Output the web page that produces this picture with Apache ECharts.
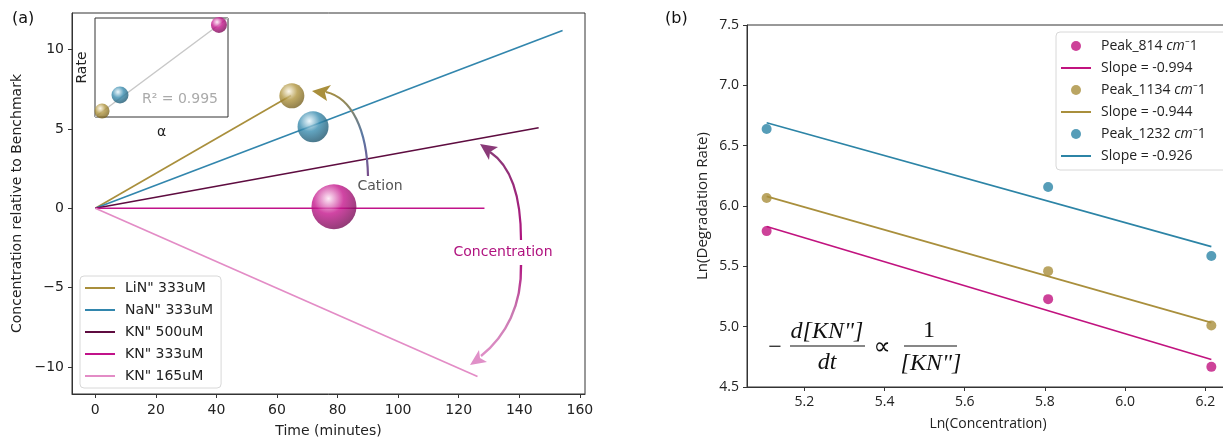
<!DOCTYPE html>
<html><head><meta charset="utf-8">
<script src="https://cdn.jsdelivr.net/npm/echarts@6/dist/echarts.min.js"></script>
<style>html,body{margin:0;padding:0;background:#fff}#c{width:1223px;height:437px}</style>
</head><body><div id="c"></div><script>
// ---------- Panel (a) data ----------
const namesA = ['LiN" 333uM', 'NaN" 333uM', 'KN" 500uM', 'KN" 333uM', 'KN" 165uM'];
const colorsA = ['#a98f3c', '#3286ad', '#5e0c40', '#c1138a', '#e38cc6'];
const startX = [0, 0, 0, 0, 0];
const startY = [0, 0, 0, 0, 0];
const endX = [64.6, 154.3, 146.4, 128.5, 126.2];
const endY = [7.1, 11.2, 5.07, 0, -10.6];
const ticksAX = [0, 20, 40, 60, 80, 100, 120, 140, 160];
const ticksAY = [-10, -5, 0, 5, 10];
// spheres on main plot (gold, blue, magenta)
const sphereX = [64.9, 71.9, 78.8];
const sphereY = [7.08, 5.14, 0.1];
const sphereSize = [25, 31, 45];
// inset (alpha vs rate)
const insetAlpha = [0.053, 0.188, 0.932];
const insetRate = [0.06, 0.222, 0.93];
const insetSize = [15, 17, 16];
const insetFitX = [0.0, 1.0];
const insetFitY = [0.0, 1.0];
// ---------- Panel (b) data ----------
const lnConc = [5.106, 5.808, 6.215];
const peak814 = [5.792, 5.228, 4.667];
const peak1134 = [6.066, 5.46, 5.01];
const peak1232 = [6.638, 6.157, 5.585];
const fitX = [5.106, 6.215];
const fit814 = [5.83, 4.728];
const fit1134 = [6.08, 5.033];
const fit1232 = [6.69, 5.663];
const ticksBX = [5.2, 5.4, 5.6, 5.8, 6.0, 6.2];
const namesB = ['Peak_814', 'Slope = -0.994', 'Peak_1134', 'Slope = -0.944', 'Peak_1232', 'Slope = -0.926'];
const colorsB = ['#c1137f', '#a98f3c', '#2c84a6'];

const sphereBase = [
  ['#fbf6e6', '#b0953f', '#6f5a1c'],
  ['#eaf6fb', '#3a8db0', '#1a4f66'],
  ['#fde6f4', '#c5178d', '#6e0a4e']
];
function sphereColor(i) {
  const c = sphereBase[i];
  return { type: 'radial', x: 0.38, y: 0.32, r: 0.75,
    colorStops: [{ offset: 0, color: c[0] }, { offset: 0.45, color: c[1] }, { offset: 1, color: c[2] }] };
}
const fontA = 'DejaVu Sans';
const fontB = 'Open Sans';
const minus = v => String(v).replace('-', '\u2212');
const lineIcon = 'path://M0,0H30V2H0Z';

const series = [];
namesA.forEach((n, i) => {
  series.push({ name: n, type: 'line', xAxisIndex: 0, yAxisIndex: 0, symbol: 'none', silent: true,
    data: [[startX[i], startY[i]], [endX[i], endY[i]]],
    lineStyle: { color: colorsA[i], width: 1.7 }, itemStyle: { color: colorsA[i] }, z: 2 });
});
series.push({ type: 'scatter', xAxisIndex: 0, yAxisIndex: 0, z: 5, clip: false,
  data: sphereX.map((x, i) => ({ value: [x, sphereY[i]], symbolSize: sphereSize[i], itemStyle: { color: sphereColor(i) } })) });
// inset
series.push({ type: 'line', xAxisIndex: 2, yAxisIndex: 2, symbol: 'none', z: 6,
  data: insetFitX.map((x, i) => [x, insetFitY[i]]), lineStyle: { color: '#c8c8c8', width: 1.5 } });
series.push({ type: 'scatter', xAxisIndex: 2, yAxisIndex: 2, z: 7, clip: false,
  data: insetAlpha.map((x, i) => ({ value: [x, insetRate[i]], symbolSize: insetSize[i], itemStyle: { color: sphereColor(i) } })) });
// panel b
const peaks = [peak814, peak1134, peak1232];
const fits = [fit814, fit1134, fit1232];
[0, 1, 2].forEach(k => {
  series.push({ name: namesB[2 * k], type: 'scatter', xAxisIndex: 1, yAxisIndex: 1, symbol: 'circle', symbolSize: 10, z: 4,
    data: lnConc.map((x, i) => [x, peaks[k][i]]), itemStyle: { color: colorsB[k] } });
  series.push({ name: namesB[2 * k + 1], type: 'line', xAxisIndex: 1, yAxisIndex: 1, symbol: 'none', z: 3,
    data: fitX.map((x, i) => [x, fits[k][i]]), lineStyle: { color: colorsB[k], width: 1.7 }, itemStyle: { color: colorsB[k] } });
});

const axisBase = {
  axisLine: { show: true, onZero: false, lineStyle: { color: '#333', width: 1 } },
  splitLine: { show: false }
};

const option = {
  animation: false,
  backgroundColor: '#fff',
  grid: [
    { left: 72, right: 638, top: 13, bottom: 43, show: true, borderColor: '#333', borderWidth: 1, containLabel: false, outerBoundsMode: 'none' },
    { left: 747, right: -12, top: 25, bottom: 50, show: true, borderColor: '#333', borderWidth: 1, containLabel: false, outerBoundsMode: 'none' },
    { left: 95, width: 133, top: 18, height: 99, show: true, borderColor: '#333', borderWidth: 1, z: 4, backgroundColor: '#fff', containLabel: false, outerBoundsMode: 'none' }
  ],
  xAxis: [
    Object.assign({}, axisBase, { type: 'value', gridIndex: 0, min: -7.7, max: 161.7,
      name: 'Time (minutes)', nameLocation: 'middle', nameGap: 30,
      nameTextStyle: { color: '#222', fontFamily: fontA, fontSize: 14 },
      axisTick: { show: true, length: 4, lineStyle: { color: '#333' }, customValues: ticksAX },
      axisLabel: { color: '#222', fontFamily: fontA, fontSize: 14, margin: 9, customValues: ticksAX } }),
    Object.assign({}, axisBase, { type: 'value', gridIndex: 1, min: 5.057, max: 6.274,
      name: 'Ln(Concentration)', nameLocation: 'middle', nameGap: 30, nameMoveOverlap: false,
      nameTextStyle: { color: '#222', fontFamily: fontB, fontSize: 14, padding: [0, 6, 0, 0] },
      axisTick: { show: true, length: 4, lineStyle: { color: '#333' }, customValues: ticksBX },
      axisLabel: { color: '#222', fontFamily: fontB, fontSize: 14, margin: 8, customValues: ticksBX, formatter: v => v.toFixed(1) } }),
    { type: 'value', gridIndex: 2, min: 0, max: 1, axisLine: { show: false }, axisTick: { show: false },
      axisLabel: { show: false }, splitLine: { show: false },
      name: '\u03b1', nameLocation: 'middle', nameGap: 8, nameTextStyle: { color: '#222', fontFamily: fontA, fontSize: 14 } }
  ],
  yAxis: [
    Object.assign({}, axisBase, { type: 'value', gridIndex: 0, min: -11.7, max: 12.3,
      name: 'Concentration relative to Benchmark', nameLocation: 'middle', nameGap: 48,
      nameTextStyle: { color: '#222', fontFamily: fontA, fontSize: 14 },
      axisTick: { show: true, length: 4, lineStyle: { color: '#333' }, customValues: ticksAY },
      axisLabel: { color: '#222', fontFamily: fontA, fontSize: 14, margin: 8, customValues: ticksAY, formatter: minus } }),
    Object.assign({}, axisBase, { type: 'value', gridIndex: 1, min: 4.5, max: 7.5, interval: 0.5,
      name: 'Ln(Degradation Rate)', nameLocation: 'middle', nameGap: 37,
      nameTextStyle: { color: '#222', fontFamily: fontB, fontSize: 15 },
      axisTick: { show: true, length: 4, lineStyle: { color: '#333' } },
      axisLabel: { color: '#222', fontFamily: fontB, fontSize: 14, margin: 8, formatter: v => v.toFixed(1) } }),
    { type: 'value', gridIndex: 2, min: 0, max: 1, axisLine: { show: false }, axisTick: { show: false },
      axisLabel: { show: false }, splitLine: { show: false },
      name: 'Rate', nameLocation: 'middle', nameGap: 6, nameTextStyle: { color: '#222', fontFamily: fontA, fontSize: 14 } }
  ],
  legend: [
    { data: namesA.map(n => ({ name: n, icon: lineIcon })), orient: 'vertical', left: 80, top: 276, itemWidth: 30, itemHeight: 14, itemGap: 8,
      padding: [5, 8, 5, 5], backgroundColor: '#fff', borderColor: '#d8d8d8', borderWidth: 1, borderRadius: 4,
      textStyle: { fontFamily: fontA, fontSize: 14, color: '#222', padding: [0, 0, 0, 5] }, selectedMode: false },
    { data: namesB.map((n, i) => ({ name: n, icon: i % 2 === 0 ? 'circle' : lineIcon })),
      orient: 'vertical', left: 1056, top: 32, itemWidth: 30, itemHeight: 10, itemGap: 8,
      padding: [7, 60, 7, 5], backgroundColor: '#fff', borderColor: '#d8d8d8', borderWidth: 1, borderRadius: 4,
      formatter: n => n.startsWith('Peak') ? n + ' {i|cm}\u207b1' : n,
      textStyle: { fontFamily: fontB, fontSize: 14, color: '#222', padding: [0, 0, 0, 5],
        rich: { i: { fontFamily: fontB, fontSize: 14, fontStyle: 'italic', color: '#222' } } }, selectedMode: false }
  ],
  series: series,
  graphic: [
    { type: 'text', left: 12, top: 11, style: { text: '(a)', font: '16px "DejaVu Sans"', fill: '#111' } },
    { type: 'text', left: 665, top: 11, style: { text: '(b)', font: '16px "DejaVu Sans"', fill: '#111' } },
    { type: 'text', x: 180, y: 99, z: 20, style: { text: 'R\u00b2 = 0.995', font: '14px "DejaVu Sans"', fill: '#aaaaaa', align: 'center', verticalAlign: 'middle' } },
    // Cation arrow
    { type: 'bezierCurve', z: 10, shape: { x1: 368, y1: 176, cpx1: 367, cpy1: 130, cpx2: 352, cpy2: 98, x2: 326, y2: 92 },
      style: { fill: 'none', lineWidth: 2.2, stroke: { type: 'linear', x: 0, y: 1, x2: 0, y2: 0,
        colorStops: [{ offset: 0, color: '#7a4a8a' }, { offset: 0.5, color: '#5a7aa5' }, { offset: 1, color: '#a98f3c' }] } } },
    { type: 'polygon', z: 10, shape: { points: [[312, 91], [331, 85], [325, 93], [327, 101]] }, style: { fill: '#a98f3c' } },
    { type: 'text', x: 380, y: 186, z: 10, style: { text: 'Cation', font: '14px "DejaVu Sans"', fill: '#555', align: 'center', verticalAlign: 'middle' } },
    // Concentration arrows
    { type: 'bezierCurve', z: 10, shape: { x1: 521, y1: 240, cpx1: 521, cpy1: 196, cpx2: 511, cpy2: 166, x2: 490, y2: 152 },
      style: { fill: 'none', lineWidth: 2.2, stroke: { type: 'linear', x: 0, y: 1, x2: 0, y2: 0,
        colorStops: [{ offset: 0, color: '#b0127f' }, { offset: 1, color: '#8a3a78' }] } } },
    { type: 'polygon', z: 10, shape: { points: [[480, 144], [498, 147], [490, 152], [489, 160]] }, style: { fill: '#8a3a78' } },
    { type: 'bezierCurve', z: 10, shape: { x1: 521, y1: 265, cpx1: 522, cpy1: 305, cpx2: 506, cpy2: 336, x2: 481, y2: 356 },
      style: { fill: 'none', lineWidth: 2.4, stroke: { type: 'linear', x: 0, y: 0, x2: 0, y2: 1,
        colorStops: [{ offset: 0, color: '#b0127f' }, { offset: 0.5, color: '#c878b0' }, { offset: 1, color: '#e090c8' }] } } },
    { type: 'polygon', z: 10, shape: { points: [[470, 365], [479, 350], [480, 358], [487, 362]] }, style: { fill: '#e090c8' } },
    { type: 'text', x: 503, y: 252, z: 10, style: { text: 'Concentration', font: '14px "DejaVu Sans"', fill: '#b0127f', align: 'center', verticalAlign: 'middle' } },
    // formula
    { type: 'text', x: 775, y: 348, z: 10, style: { text: '\u2212', font: '24px "Liberation Serif"', fill: '#111', align: 'center', verticalAlign: 'middle' } },
    { type: 'text', x: 827, y: 332, z: 10, style: { text: 'd[KN"]', font: 'italic 24px "Liberation Serif"', fill: '#111', align: 'center', verticalAlign: 'middle' } },
    { type: 'line', z: 10, shape: { x1: 790, y1: 346, x2: 865, y2: 346 }, style: { stroke: '#111', lineWidth: 1.2 } },
    { type: 'text', x: 827, y: 363, z: 10, style: { text: 'dt', font: 'italic 24px "Liberation Serif"', fill: '#111', align: 'center', verticalAlign: 'middle' } },
    { type: 'text', x: 882, y: 348, z: 10, style: { text: '\u221d', font: '24px "DejaVu Sans"', fill: '#111', align: 'center', verticalAlign: 'middle' } },
    { type: 'text', x: 929, y: 331, z: 10, style: { text: '1', font: '24px "Liberation Serif"', fill: '#111', align: 'center', verticalAlign: 'middle' } },
    { type: 'line', z: 10, shape: { x1: 904, y1: 346, x2: 957, y2: 346 }, style: { stroke: '#111', lineWidth: 1.2 } },
    { type: 'text', x: 931, y: 364, z: 10, style: { text: '[KN"]', font: 'italic 24px "Liberation Serif"', fill: '#111', align: 'center', verticalAlign: 'middle' } }
  ]
};
const chart = echarts.init(document.getElementById('c'), null, { renderer: 'canvas' });
chart.setOption(option);
</script></body></html>
